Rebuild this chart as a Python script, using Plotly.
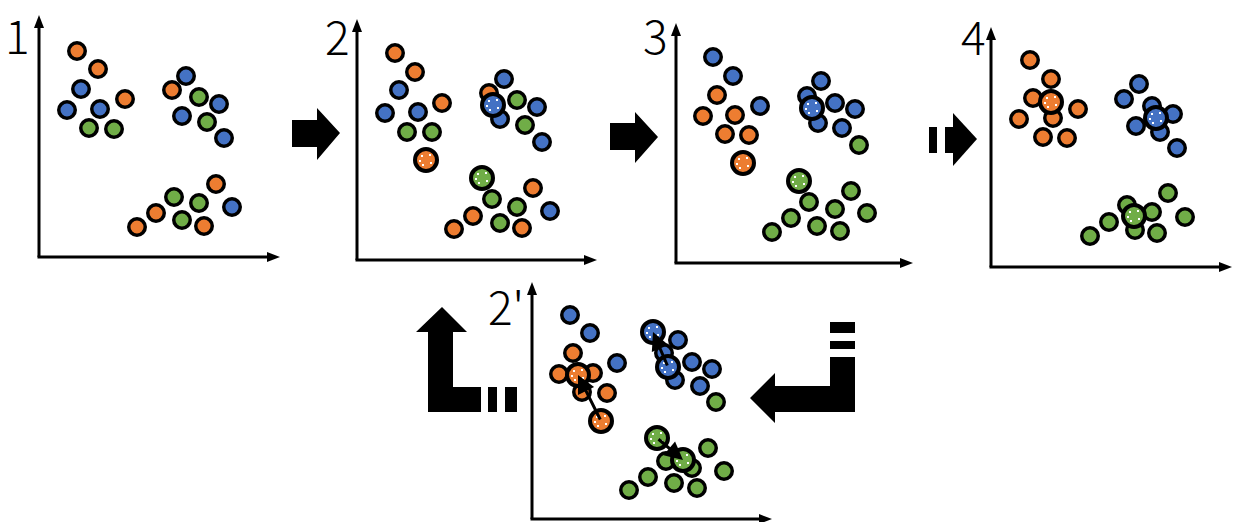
import plotly.graph_objects as go

W, H = 1237, 522
ORANGE, BLUE, GREEN = "#ED7D31", "#4472C4", "#70AD47"

# ---- data points (pixel-space coordinates) ----
# panel 1
p1_orange = [(77, 51), (98, 69), (125, 99), (172, 90), (216, 184), (156, 213), (137, 227), (204, 226)]
p1_blue = [(81, 89), (67, 110), (100, 109), (186, 76), (219, 104), (182, 116), (224, 138), (232, 207)]
p1_green = [(89, 128), (114, 129), (199, 97), (207, 122), (174, 197), (199, 203), (182, 220)]
# panel 2
p2_orange = [(395, 53), (415, 72), (442, 103), (489, 93), (533, 188), (473, 216), (454, 229), (522, 228)]
p2_blue = [(399, 90), (385, 113), (418, 112), (504, 79), (537, 107), (500, 119), (542, 142), (550, 211)]
p2_green = [(407, 132), (432, 132), (517, 100), (525, 125), (492, 199), (517, 207), (500, 223)]
p2_cent = [(426, 160), (493, 105), (482, 178)]
# panel 3
p3_orange = [(717, 95), (703, 116), (735, 115), (725, 134), (749, 135)]
p3_blue = [(713, 57), (733, 76), (760, 106), (821, 81), (807, 96), (835, 103), (855, 109), (818, 123), (842, 128)]
p3_green = [(859, 145), (851, 191), (809, 202), (835, 209), (867, 213), (791, 218), (817, 226), (840, 231), (772, 232)]
p3_cent = [(743, 163), (812, 108), (799, 181)]
# panel 4
p4_orange = [(1030, 60), (1051, 79), (1033, 98), (1078, 109), (1019, 119), (1053, 118), (1043, 137), (1067, 138)]
p4_blue = [(1139, 84), (1124, 99), (1152, 106), (1173, 114), (1136, 126), (1160, 132), (1177, 148)]
p4_green = [(1168, 193), (1127, 205), (1152, 212), (1185, 217), (1109, 222), (1135, 230), (1157, 233), (1090, 236)]
p4_cent = [(1051, 102), (1156, 118), (1134, 216)]
# panel 2'
p5_orange = [(573, 353), (559, 374), (593, 373), (582, 392), (607, 393)]
p5_blue = [(570, 315), (590, 333), (617, 363), (678, 340), (664, 353), (692, 362), (712, 369), (675, 380), (700, 386)]
p5_green = [(716, 402), (708, 448), (666, 461), (692, 468), (724, 471), (648, 477), (674, 483), (697, 488), (629, 490)]
p5_cent_old = [(601, 421), (668, 367), (657, 438)]
p5_cent_new = [(578, 375), (653, 332), (683, 460)]

labels = ["1", "2", "3", "4", "2'"]
label_pos = [(17, 34), (337, 35), (655, 34), (973, 35), (506, 305)]

# axes: (x of y-axis, y of x-axis, top tip y, right tip x)
axes = [(39, 257, 15, 280), (357, 260, 19, 597), (676, 263, 23, 913), (991, 267, 27, 1232), (532, 519, 282, 772)]

fig = go.Figure()


def pts(data, color, size=16.5, lw=3.5):
    fig.add_trace(go.Scatter(
        x=[p[0] for p in data], y=[p[1] for p in data], mode="markers",
        marker=dict(size=size, color=color, line=dict(color="black", width=lw)),
        hoverinfo="skip", showlegend=False, cliponaxis=False))


def cents(data):
    for p, c in zip(data, [ORANGE, BLUE, GREEN]):
        pts([p], c, size=22, lw=4)
        # white speckle texture
        offs = [(-4, -4), (4, -5), (5, 3), (-3, 5), (-6, 1)]
        fig.add_trace(go.Scatter(
            x=[p[0] + o[0] for o in offs], y=[p[1] + o[1] for o in offs], mode="markers",
            marker=dict(size=2, color="white", symbol="square"),
            hoverinfo="skip", showlegend=False))


for grp in [(p1_orange, p1_blue, p1_green, None),
            (p2_orange, p2_blue, p2_green, p2_cent),
            (p3_orange, p3_blue, p3_green, p3_cent),
            (p4_orange, p4_blue, p4_green, p4_cent),
            (p5_orange, p5_blue, p5_green, None)]:
    pts(grp[0], ORANGE)
    pts(grp[1], BLUE)
    pts(grp[2], GREEN)
    if grp[3]:
        cents(grp[3])

cents(p5_cent_old)
cents(p5_cent_new)

shapes = []
for (ax, ay, top, right) in axes:
    shapes.append(dict(type="line", x0=ax, y0=ay, x1=ax, y1=top + 8, line=dict(color="black", width=3), layer="below"))
    shapes.append(dict(type="line", x0=ax - 1.5, y0=ay, x1=right - 8, y1=ay, line=dict(color="black", width=3), layer="below"))
    shapes.append(dict(type="path", path=f"M{ax-5},{top+13} L{ax},{top} L{ax+5},{top+13} Z",
                       fillcolor="black", line=dict(width=0), layer="below"))
    shapes.append(dict(type="path", path=f"M{right-13},{ay-5} L{right},{ay} L{right-13},{ay+5} Z",
                       fillcolor="black", line=dict(width=0), layer="below"))


def poly(points):
    d = "M" + " L".join(f"{x},{y}" for x, y in points) + " Z"
    shapes.append(dict(type="path", path=d, fillcolor="black", line=dict(width=0)))


def rect(x0, y0, x1, y1):
    shapes.append(dict(type="rect", x0=x0, y0=y0, x1=x1, y1=y1, fillcolor="black", line=dict(width=0)))


# block arrow 1 -> 2
poly([(292, 120), (317, 120), (317, 108), (340, 133), (317, 160), (317, 147), (292, 147)])
# block arrow 2 -> 3
poly([(610, 123), (635, 123), (635, 112), (658, 137), (635, 163), (635, 150), (610, 150)])
# dashed arrow 3 -> 4
rect(929, 127, 937, 153)
rect(945, 127, 953, 153)
poly([(953, 113), (977, 139), (953, 166)])
# bent arrow 4 -> 2'
rect(830, 322, 855, 333)
rect(830, 341, 855, 349)
poly([(830, 357), (855, 357), (855, 412), (775, 412), (775, 423), (750, 398), (775, 373), (775, 386), (830, 386)])
# bent arrow 2' -> 2
poly([(428, 412), (428, 332), (416, 332), (442, 307), (467, 332), (453, 332), (453, 387), (481, 387), (481, 412)])
rect(488, 387, 497, 412)
rect(505, 387, 517, 412)

annotations = []
for t, (x, y) in zip(labels, label_pos):
    annotations.append(dict(x=x, y=y, text=t, showarrow=False, xanchor="center", yanchor="middle",
                            borderpad=0,
                            font=dict(family="Noto Sans CJK JP", size=46, color="black", weight=200)))

for o, n in zip(p5_cent_old, p5_cent_new):
    annotations.append(dict(x=n[0], y=n[1], ax=o[0], ay=o[1], xref="x", yref="y", axref="x", ayref="y",
                            text="", showarrow=True, arrowhead=2, arrowsize=1.2, arrowwidth=3,
                            arrowcolor="black", standoff=0))

fig.update_layout(
    width=W, height=H, margin=dict(l=0, r=0, t=0, b=0),
    paper_bgcolor="white", plot_bgcolor="white",
    xaxis=dict(range=[0, W], visible=False, fixedrange=True),
    yaxis=dict(range=[H, 0], visible=False, fixedrange=True),
    shapes=shapes, annotations=annotations,
)

fig.write_html("out.html", config={"displayModeBar": False},
               post_script="document.body.style.margin='0';document.body.style.overflow='hidden';")
